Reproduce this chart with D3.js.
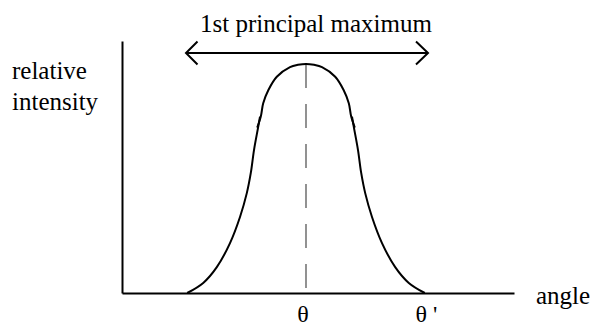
<!DOCTYPE html>
<html>
<head>
<meta charset="utf-8">
<script src="https://cdn.jsdelivr.net/npm/d3@7"></script>
<style>
  html, body { margin: 0; padding: 0; background: #fff; }
  svg { display: block; }
</style>
</head>
<body>
<svg id="chart" width="590" height="327"></svg>
<script>
// ---- data (angle measured from θ, intensity relative to peak) ----
const arcAngle = [-12.2, -11.3, -10.7, -9.4, -7.3, -4.0, -2.0, 0, 2.0, 4.0, 7.3, 9.4, 10.7, 11.3, 12.2];
const arcIntensity = [0.722, 0.770, 0.828, 0.886, 0.944, 0.986, 0.996, 1.0, 0.996, 0.986, 0.944, 0.886, 0.828, 0.770, 0.722];
const leftTailAngle = [-11.5, -11.95, -13.0, -13.8, -14.8, -16.5, -19.0, -22.3, -25.7, -29.7];
const rightTailAngle = [11.5, 11.95, 13.0, 13.8, 14.8, 16.5, 19.0, 22.3, 25.7, 29.7];
const tailIntensity = [0.770, 0.725, 0.624, 0.524, 0.436, 0.332, 0.218, 0.113, 0.044, 0];
const tickAngles = [0, 30];
const tickLabels = ["θ", "θ '"];
const arrowSpan = [-30, 30.5];
const peakAngle = 0;
const peakIntensity = 1.0;
const titleText = "1st principal maximum";
const yLabelLines = ["relative", "intensity"];
const xLabel = "angle";

// ---- layout ----
const FONT = "'Liberation Serif', 'Times New Roman', Times, 'DejaVu Serif', serif";
const FS = 25;
const svg = d3.select("#chart");
const x = d3.scaleLinear().domain([-46, 52]).range([122, 514]);
const y = d3.scaleLinear().domain([0, 1.1]).range([293, 41]);

// axes
const xAxis = d3.axisBottom(x)
  .tickValues(tickAngles)
  .tickFormat((d, i) => tickLabels[i])
  .tickSize(0)
  .tickSizeOuter(0);
const gx = svg.append("g").attr("transform", `translate(0,${y(0)})`).call(xAxis);
gx.attr("font-family", FONT);
gx.select(".domain").attr("stroke", "#000").attr("stroke-width", 2);
gx.selectAll(".tick text")
  .attr("y", 29).attr("dy", 0)
  .attr("dx", (d, i) => i === 0 ? -3.5 : 0)
  .attr("font-size", 24)
  .attr("fill", "#000");

const yAxis = d3.axisLeft(y).tickValues([]).tickSize(0).tickSizeOuter(0);
const gy = svg.append("g").attr("transform", `translate(${x.range()[0]},0)`).call(yAxis);
gy.select(".domain").attr("stroke", "#000").attr("stroke-width", 2);

// dashed line at θ
svg.append("line")
  .attr("x1", x(peakAngle)).attr("x2", x(peakAngle))
  .attr("y1", y(peakIntensity)).attr("y2", y(0))
  .attr("stroke", "#777").attr("stroke-width", 1.6)
  .attr("stroke-dasharray", "24,16");

// curve
const line = d3.line().x(d => x(d[0])).y(d => y(d[1])).curve(d3.curveCatmullRom.alpha(0.5));
const curveStyle = sel => sel.attr("fill", "none").attr("stroke", "#000").attr("stroke-width", 2).attr("stroke-linejoin", "round");

svg.append("path").datum(d3.zip(arcAngle, arcIntensity)).attr("d", line).call(curveStyle);
svg.append("path").datum(d3.zip(leftTailAngle, tailIntensity)).attr("d", line).call(curveStyle);
svg.append("path").datum(d3.zip(rightTailAngle, tailIntensity)).attr("d", line).call(curveStyle);

// double-headed arrow
const arrowY = 53;
const ax0 = x(arrowSpan[0]), ax1 = x(arrowSpan[1]);
svg.append("line").attr("x1", ax0).attr("x2", ax1).attr("y1", arrowY).attr("y2", arrowY)
  .attr("stroke", "#000").attr("stroke-width", 2);
svg.append("path")
  .attr("d", `M${ax0 + 11.5},${arrowY - 11.5}L${ax0},${arrowY}L${ax0 + 11.5},${arrowY + 11.5}`)
  .attr("fill", "none").attr("stroke", "#000").attr("stroke-width", 2);
svg.append("path")
  .attr("d", `M${ax1 - 12},${arrowY - 11.5}L${ax1},${arrowY}L${ax1 - 12},${arrowY + 11.5}`)
  .attr("fill", "none").attr("stroke", "#000").attr("stroke-width", 2);

// texts
svg.append("text").attr("x", 316).attr("y", 32).attr("text-anchor", "middle")
  .attr("font-family", FONT).attr("font-size", FS).text(titleText);
svg.selectAll("text.ylab").data(yLabelLines).enter().append("text")
  .attr("class", "ylab")
  .attr("x", 12).attr("y", (d, i) => 79 + i * 31)
  .attr("font-family", FONT).attr("font-size", FS).text(d => d);
svg.append("text").attr("x", 536).attr("y", 304)
  .attr("font-family", FONT).attr("font-size", FS).text(xLabel);
</script>
</body>
</html>
